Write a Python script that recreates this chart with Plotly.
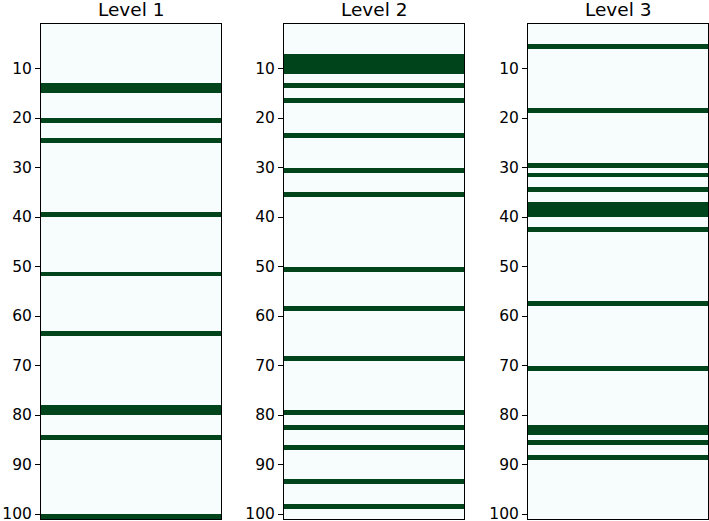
import plotly.graph_objects as go
from plotly.subplots import make_subplots

# rows flagged (dark) in each level, rows run 1..100
levels = ["Level 1", "Level 2", "Level 3"]
level1_rows = [13, 14, 20, 24, 39, 51, 63, 78, 79, 84, 100]
level2_rows = [7, 8, 9, 10, 13, 16, 23, 30, 35, 50, 58, 68, 79, 82, 86, 93, 98]
level3_rows = [5, 18, 29, 31, 34, 37, 38, 39, 42, 57, 70, 82, 83, 85, 88]
row_ids = list(range(1, 101))
y_ticks = [10, 20, 30, 40, 50, 60, 70, 80, 90, 100]

W, H = 709, 521
fig = make_subplots(rows=1, cols=3)

x_px = [(41, 221), (284, 464), (528, 708)]
y_dom = [1 - 519 / H, 1 - 24 / H]

for i, rows in enumerate([level1_rows, level2_rows, level3_rows]):
    z = [[1 if r in rows else 0] for r in row_ids]
    fig.add_trace(go.Heatmap(
        z=z, x=[0, 1], y=row_ids + [101],
        colorscale=[[0, "#f7fcfd"], [1, "#00441b"]],
        zmin=0, zmax=1, showscale=False,
    ), row=1, col=i + 1)
    n = "" if i == 0 else str(i + 1)
    fig.layout["xaxis" + n].update(
        domain=[x_px[i][0] / W, x_px[i][1] / W], range=[0, 1],
        showticklabels=False, ticks="", showgrid=False, zeroline=False,
        showline=True, mirror=True, linecolor="black", linewidth=1,
        automargin=False,
    )
    fig.layout["yaxis" + n].update(
        domain=y_dom, range=[101, 1], tickvals=y_ticks,
        ticks="outside", ticklen=5, tickcolor="black", tickwidth=1,
        showgrid=False, zeroline=False,
        showline=True, mirror=True, linecolor="black", linewidth=1,
        tickfont=dict(size=15.5, color="black"),
        ticklabeloverflow="allow",
        automargin=False,
    )
    fig.add_annotation(
        text=levels[i], x=(x_px[i][0] + x_px[i][1]) / 2 / W, y=1 - 10 / H,
        xref="paper", yref="paper", showarrow=False,
        xanchor="center", yanchor="middle",
        font=dict(size=18.5, color="black"),
    )

fig.update_layout(
    width=W, height=H,
    margin=dict(l=0, r=0, t=0, b=0),
    paper_bgcolor="white", plot_bgcolor="white",
    font=dict(family="DejaVu Sans"),
)
# drop the page's default body margin so the figure sits at the window corner
fig.write_html("out.html", config={"displayModeBar": False},
               post_script="document.body.style.margin='0';")
